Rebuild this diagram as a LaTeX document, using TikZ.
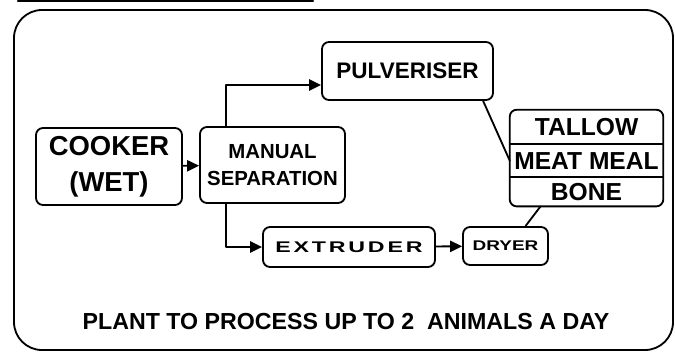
\documentclass[tikz,border=0pt]{standalone}
\usepackage{fontspec}
\setmainfont{Liberation Sans}
\newfontfamily\widefont{Liberation Sans}[FakeStretch=1.5,LetterSpace=18]
\newfontfamily\stretchfont{Liberation Sans}[FakeStretch=1.35]
\usetikzlibrary{arrows.meta,positioning}
\tikzset{
    box/.style={
        draw, line width=1.3pt, rounded corners=5pt,
        align=center, inner sep=0pt
    },
    bigtxt/.style={
        font=\fontsize{19.5}{25.6}\selectfont\bfseries
    },
    midtxt/.style={
        font=\fontsize{14.5}{19}\selectfont\bfseries
    },
    stacktxt/.style={
        font=\fontsize{17.5}{20}\selectfont\bfseries,
        minimum width=3.825cm, inner sep=0pt
    },
    widetxt/.style={
        font=\fontsize{11}{12}\widefont\bfseries
    },
    drytxt/.style={
        font=\fontsize{10}{12}\stretchfont\bfseries
    },
    arr/.style={
        line width=1.3pt, -{Triangle[length=3mm,width=2.8mm]}
    }
}

\begin{document}
\begin{tikzpicture}[line cap=round,line join=round]

% --- page size (676 x 354 px at 40 px/cm) ---
    \useasboundingbox (0,0) rectangle (16.9,8.85);

% outer frame and cut-off header rule
    \draw[line width=1.3pt, rounded corners=0.7cm] (0.35,0.1) rectangle (16.825,8.6);
    \draw[line width=1.5pt] (0.45,8.82) -- (7.825,8.82);

% process boxes
    \node[box, bigtxt, minimum width=3.65cm, minimum height=1.925cm] (cooker) at (2.725,4.6875) {COOKER\\(WET)};
    \node[box, midtxt, minimum width=3.625cm, minimum height=1.9cm] (manual) at (6.8125,4.725) {MANUAL\\SEPARATION};
    \node[box, font=\fontsize{16}{18}\selectfont\bfseries, minimum width=4.275cm, minimum height=1.45cm] (pulv) at (10.1875,7.075) {PULVERISER};
    \node[box, widetxt, minimum width=4.3cm, minimum height=1.0cm] (extruder) at (8.725,2.675) {EXTRUDER};
    \node[box, drytxt, minimum width=2.125cm, minimum height=0.95cm] (dryer) at (12.6375,2.7) {DRYER};

% product stack (three parts in one rounded box)
    \node[stacktxt, minimum height=0.85cm] (tallow) at (14.6625,5.675) {TALLOW};
    \node[stacktxt, minimum height=0.8cm, below=0pt of tallow] (meat) {MEAT MEAL};
    \node[stacktxt, minimum height=0.725cm, below=0pt of meat] (bone) {BONE};
    \draw[line width=1.3pt, rounded corners=5pt] (tallow.north west) rectangle (bone.south east);
    \draw[line width=1.3pt] (tallow.south west) -- (tallow.south east);
    \draw[line width=1.3pt] (meat.south west) -- (meat.south east);

% connectors
    \draw[arr] (cooker) -- (manual);
    \draw[arr] ([xshift=0.675cm]manual.north west) |- ([yshift=-0.35cm]pulv.west);
    \draw[arr] ([xshift=0.675cm]manual.south west) |- (extruder.west);
    \draw[arr] (extruder) -- (dryer);
    \draw[line width=1.3pt] ([xshift=-0.27cm]pulv.south east) -- (meat.west);
    \draw[line width=1.3pt] ([xshift=0.5cm]dryer.north) -- ([xshift=-1.15cm]bone.south);

% caption
    \node[font=\fontsize{16.5}{20}\selectfont\bfseries] (caption) at (8.65,0.8) {PLANT TO PROCESS UP TO 2\ \ ANIMALS A DAY};

\end{tikzpicture}
\end{document}
